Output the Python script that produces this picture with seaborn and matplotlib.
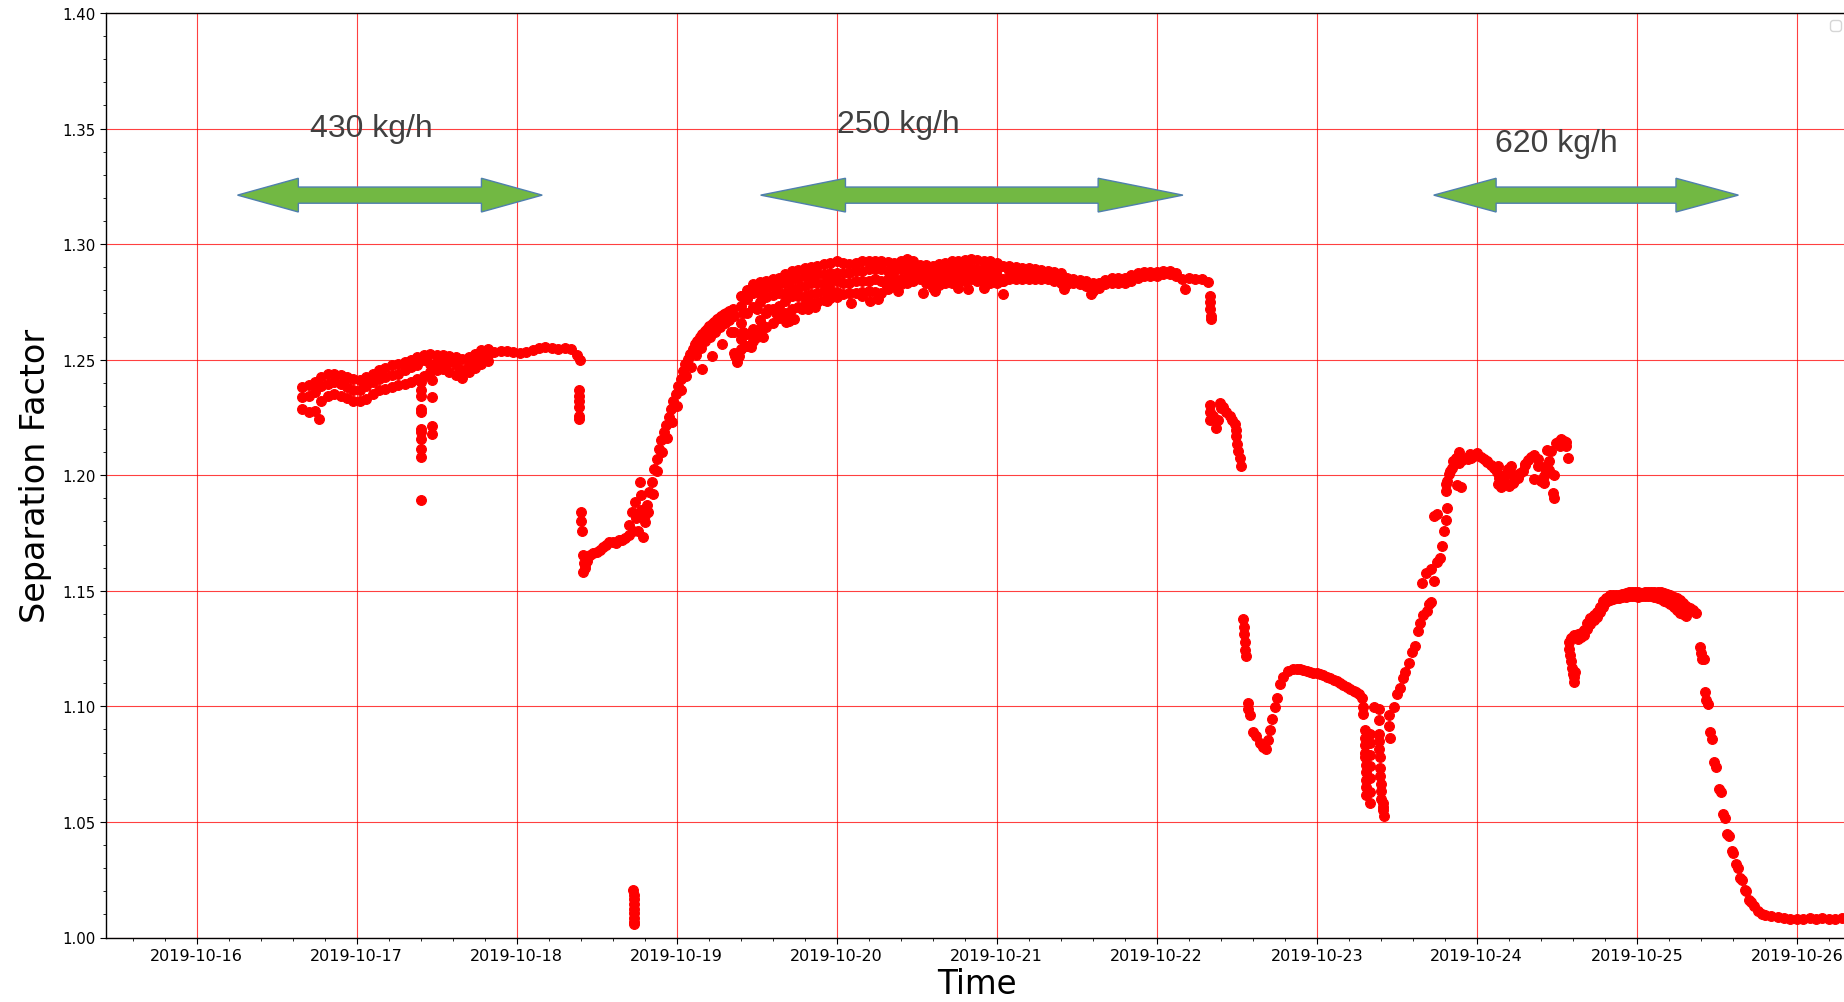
import numpy as np
import pandas as pd
import matplotlib
matplotlib.use("Agg")
import matplotlib.pyplot as plt
import matplotlib.dates as mdates
from matplotlib.ticker import AutoMinorLocator, MultipleLocator, FormatStrFormatter
from matplotlib.patches import Polygon
import seaborn as sns

# ---------------- data (time = day of October 2019, value = separation factor) -------------
# segment A: regular 0.04-day samples from 16.66
a_start, a_step = 16.66, 0.04
a_mid = [1.2338, 1.2345, 1.2359, 1.2388, 1.2396, 1.2403, 1.2396, 1.2381, 1.2367, 1.2367,
         1.2388, 1.2403, 1.2417, 1.2425, 1.2432, 1.2439, 1.2454, 1.2468, 1.2475, 1.2497,
         1.2483, 1.2490, 1.2504, 1.2490, 1.2475, 1.2454, 1.2475, 1.2497, 1.2512, 1.2519,
         1.2533, 1.2536, 1.2536, 1.2533, 1.2530, 1.2533, 1.2541, 1.2551, 1.2555, 1.2551,
         1.2548, 1.2551, 1.2545, 1.2519]
# upper / lower edges of segment A, same grid (first 30 samples)
a_top = [1.2381, 1.2390, 1.2403, 1.2425, 1.2439, 1.2439, 1.2432, 1.2425, 1.2417, 1.2410,
         1.2425, 1.2440, 1.2454, 1.2465, 1.2475, 1.2480, 1.2490, 1.2500, 1.2512, 1.2520,
         1.2526, 1.2522, 1.2519, 1.2515, 1.2512, 1.2505, 1.2512, 1.2526, 1.2541, 1.2545]
a_bot = [1.2287, 1.2275, 1.2280, 1.2320, 1.2345, 1.2350, 1.2345, 1.2335, 1.2323, 1.2320,
         1.2330, 1.2350, 1.2367, 1.2375, 1.2381, 1.2390, 1.2396, 1.2405, 1.2417, 1.2430,
         1.2446, 1.2455, 1.2461, 1.2445, 1.2432, 1.2420, 1.2446, 1.2465, 1.2483, 1.2495]

# segment A2 (low level after the first step), 0.02-day samples from 18.42
a2_start, a2_step = 18.42, 0.02
a2_val = [1.1620, 1.1630, 1.1655, 1.1662, 1.1670, 1.1677, 1.1691, 1.1698, 1.1713, 1.1713,
          1.1705, 1.1720, 1.1720, 1.1727, 1.1741]

# rise, 0.015-day samples from 18.80
rise_start, rise_step = 18.80, 0.015
rise_val = [1.1828, 1.1871, 1.1928, 1.1971, 1.2029, 1.2072, 1.2115, 1.2151, 1.2187, 1.2216,
            1.2251, 1.2287, 1.2323, 1.2352, 1.2388, 1.2417, 1.2453, 1.2481, 1.2503, 1.2524,
            1.2546, 1.2568, 1.2582, 1.2596, 1.2611, 1.2625, 1.2632, 1.2647, 1.2654, 1.2661,
            1.2675, 1.2682, 1.2690, 1.2697, 1.2704, 1.2711, 1.2711, 1.2718]
rise_lo_start, rise_lo_step = 18.82, 0.03
rise_lo = [1.184, 1.192, 1.202, 1.210, 1.216, 1.223, 1.230, 1.237, 1.243, 1.247,
           1.252, 1.255, 1.258, 1.260, 1.262, 1.264, 1.266, 1.267]

# plateau B, 0.04-day samples from 19.36
b_start, b_step = 19.36, 0.04
b_top = [1.2690, 1.2733, 1.2761, 1.2790, 1.2805, 1.2812, 1.2819, 1.2826, 1.2833, 1.2848,
         1.2848, 1.2862, 1.2862, 1.2869, 1.2869, 1.2876, 1.2876, 1.2876, 1.2876, 1.2884,
         1.2884, 1.2891, 1.2891, 1.2891, 1.2884, 1.2884, 1.2891, 1.2898, 1.2891, 1.2884,
         1.2884, 1.2884, 1.2876, 1.2884, 1.2891, 1.2891, 1.2898, 1.2898, 1.2891, 1.2891,
         1.2898, 1.2891, 1.2848, 1.2884, 1.2884, 1.2884, 1.2876, 1.2869, 1.2862, 1.2862,
         1.2869, 1.2855, 1.2826, 1.2833, 1.2826, 1.2819, 1.2797, 1.2812, 1.2826, 1.2833,
         1.2833, 1.2833, 1.2840, 1.2855, 1.2862, 1.2862, 1.2862, 1.2869, 1.2869, 1.2862,
         1.2850, 1.2855, 1.2851, 1.2848, 1.2834]
b_mid = [1.262, 1.266, 1.270, 1.273, 1.275, 1.277, 1.278, 1.279, 1.279, 1.281,
         1.281, 1.282, 1.283, 1.283, 1.283, 1.284, 1.284, 1.283, 1.283, 1.284,
         1.284, 1.284, 1.285, 1.284, 1.285, 1.285, 1.285, 1.286, 1.286, 1.287,
         1.286, 1.285, 1.285, 1.285, 1.286, 1.286, 1.286, 1.287, 1.286, 1.286,
         1.286, 1.286, 1.284]
b_low2 = [1.2530, 1.2545, 1.2560, 1.2580, 1.2610, 1.2640, 1.2660, 1.2680, 1.2700, 1.2720,
          1.2730, 1.2740, 1.2745, 1.2750, 1.2760, 1.2765, 1.2770]
# upper and lower edges of plateau B, 0.04-day samples from 19.40
b_edge_start = 19.40
b_hi = [1.2776, 1.2800, 1.2826, 1.2835, 1.2840, 1.2848, 1.2855, 1.2870, 1.2884, 1.2890,
        1.2898, 1.2900, 1.2905, 1.2912, 1.2920, 1.2925, 1.2920, 1.2915, 1.2920, 1.2925,
        1.2927, 1.2925, 1.2927, 1.2922, 1.2920, 1.2927, 1.2934, 1.2925, 1.2911, 1.2908,
        1.2905, 1.2912, 1.2920, 1.2925, 1.2927, 1.2932, 1.2934, 1.2930, 1.2927, 1.2925,
        1.2920, 1.2905, 1.2905, 1.2900, 1.2898, 1.2895, 1.2891, 1.2888, 1.2884, 1.2880,
        1.2876, 1.2855, 1.2848, 1.2845, 1.2840, 1.2830, 1.2833, 1.2845, 1.2855, 1.2855,
        1.2855, 1.2865, 1.2876, 1.2878, 1.2879, 1.2880, 1.2884, 1.2884, 1.2876]
b_low = [1.2589, 1.2610, 1.2632, 1.2670, 1.2704, 1.2720, 1.2733, 1.2755, 1.2776, 1.2776,
         1.2776, 1.2783, 1.2790, 1.2798, 1.2805, 1.2795, 1.2783, 1.2787, 1.2790, 1.2794,
         1.2797, 1.2793, 1.2790, 1.2805, 1.2819, 1.2826, 1.2833, 1.2840, 1.2848, 1.2830,
         1.2812, 1.2822, 1.2833, 1.2833, 1.2833, 1.2840, 1.2848, 1.2840, 1.2833, 1.2833,
         1.2833, 1.2840, 1.2848, 1.2848, 1.2848, 1.2848, 1.2848, 1.2848, 1.2848, 1.2840,
         1.2833]

# segment E (hump on 10-25), 0.02-day samples from 24.59
e_start, e_step = 24.59, 0.02
e_val = [1.1294, 1.1309, 1.1312, 1.1316, 1.1330, 1.1359, 1.1381, 1.1396, 1.1410, 1.1432,
         1.1454, 1.1471, 1.1480, 1.1480, 1.1483, 1.1483, 1.1486, 1.1490, 1.1493, 1.1494,
         1.1497, 1.1493, 1.1490, 1.1493, 1.1494, 1.1497, 1.1494, 1.1497, 1.1493, 1.1490,
         1.1486, 1.1480, 1.1475, 1.1468, 1.1461, 1.1449, 1.1436, 1.1425, 1.1417, 1.1406]
e_low_start = 24.63
e_low = [1.1290, 1.1298, 1.1310, 1.1335, 1.1358, 1.1372, 1.1388, 1.1410, 1.1432, 1.1452,
         1.1462, 1.1465, 1.1468, 1.1470, 1.1472, 1.1475, 1.1476, 1.1478, 1.1476, 1.1475,
         1.1478, 1.1476, 1.1478, 1.1476, 1.1474, 1.1470, 1.1465, 1.1458, 1.1450, 1.1442,
         1.1430, 1.1418, 1.1406, 1.1398, 1.1390]

# tail, 0.04-day samples from 25.80
tail_start, tail_step = 25.80, 0.04
tail_val = [1.0099, 1.0091, 1.0088, 1.0084, 1.0081, 1.0080, 1.0080, 1.0083, 1.0080, 1.0083,
            1.0080, 1.0080, 1.0083, 1.0080, 1.0081]

# individual readings (time, value)
pts_t = [16.763, 17.401, 17.401, 17.401, 17.401, 17.401, 17.401, 17.401, 17.401, 17.401, 17.401, 17.401,
         17.470, 17.470, 17.470, 17.470,
         18.395, 18.39, 18.39, 18.39, 18.39, 18.39, 18.39, 18.40, 18.405, 18.41,
         18.417, 18.417, 18.425, 18.43,
         18.703, 18.719, 18.737, 18.749, 18.770, 18.775, 18.788, 18.800, 18.730, 18.760, 18.780,
         18.730, 18.731, 18.731, 18.732, 18.732, 18.733, 18.733, 18.734, 18.734,
         19.160, 19.220, 19.286, 19.340, 19.363, 19.376, 19.389, 19.427, 19.465, 19.490,
         19.542, 19.568, 19.619, 19.683, 19.734, 19.785, 19.824, 19.862, 19.939, 20.092,
         20.156, 20.207, 20.258, 20.310, 20.386, 20.540, 20.616, 20.757, 20.821, 20.923,
         21.038, 21.422, 21.588, 22.176,
         19.410, 19.412, 19.414, 19.500, 19.502, 19.504, 19.530, 19.532, 19.700, 19.702,
         22.330, 22.333, 22.336, 22.340, 22.342,
         22.331, 22.333, 22.336, 22.350, 22.372, 22.380, 22.393, 22.400, 22.414, 22.430,
         22.456, 22.470, 22.487, 22.495, 22.498, 22.500, 22.505, 22.519, 22.529,
         22.540, 22.543, 22.546, 22.549, 22.552, 22.555,
         22.571, 22.573, 22.586, 22.603, 22.623, 22.644, 22.665, 22.682, 22.697, 22.711,
         22.718, 22.739, 22.753, 22.770, 22.791, 22.822, 22.854, 22.875, 22.895, 22.916,
         22.937, 22.958, 22.979, 23.000, 23.021, 23.042, 23.063, 23.084, 23.105, 23.126,
         23.146, 23.167, 23.188, 23.209, 23.230, 23.246, 23.262, 23.282, 23.289, 23.291,
         23.300, 23.300, 23.302, 23.302, 23.304, 23.305, 23.306, 23.307, 23.308, 23.309,
         23.330, 23.330, 23.331, 23.332, 23.333, 23.334, 23.335,
         23.356, 23.387, 23.390,
         23.387, 23.390, 23.392, 23.394, 23.396, 23.398, 23.400, 23.402, 23.404,
         23.415, 23.416, 23.417, 23.418,
         23.450, 23.452, 23.455, 23.481, 23.502, 23.523, 23.540, 23.554, 23.575, 23.596,
         23.617, 23.632, 23.644, 23.665, 23.686, 23.700, 23.711, 23.659, 23.680, 23.711,
         23.732, 23.753, 23.770, 23.785, 23.795, 23.805, 23.753, 23.732, 23.816, 23.805,
         23.816, 23.826, 23.847, 23.879, 23.900, 23.889, 23.910, 23.931, 23.946, 23.962,
         23.980, 24.000, 24.025, 24.046, 24.067, 24.088, 24.109, 24.125, 24.140, 24.150,
         24.165, 24.182, 24.198, 24.213, 24.234, 24.255, 24.270, 24.287, 24.300, 24.318,
         24.340, 24.360, 24.381, 24.402, 24.418, 24.433, 24.454, 24.464, 24.475, 24.485,
         24.496, 24.510, 24.527, 24.545, 24.559, 24.569, 24.454, 24.420, 24.160, 24.225,
         23.810, 23.830, 23.850, 23.870, 23.890, 23.960, 24.067, 24.130, 24.170, 24.230,
         24.300, 24.360, 24.420, 24.440, 24.480, 24.520, 24.560, 24.130, 24.200, 24.380,
         24.575, 24.579, 24.585, 24.590, 24.595, 24.600, 24.605, 24.610, 24.615,
         25.398, 25.400, 25.405, 25.419, 25.429, 25.431, 25.442, 25.456, 25.470, 25.481,
         25.494, 25.512, 25.527, 25.540, 25.550, 25.565, 25.577, 25.596, 25.602, 25.617,
         25.631, 25.648, 25.658, 25.675, 25.683, 25.700, 25.715, 25.731, 25.756, 25.783]
pts_v = [1.2243, 1.2403, 1.2367, 1.2345, 1.2287, 1.2272, 1.2200, 1.2186, 1.2157, 1.2113, 1.2077, 1.1891,
         1.2414, 1.2338, 1.2214, 1.2178,
         1.2497, 1.2367, 1.2345, 1.2323, 1.2294, 1.2258, 1.2243, 1.1841, 1.1800, 1.1757,
         1.1655, 1.1583, 1.1600, 1.1610,
         1.1784, 1.1842, 1.1885, 1.1813, 1.1971, 1.1914, 1.1734, 1.1799, 1.1760, 1.1760, 1.1850,
         1.0205, 1.0185, 1.0165, 1.0145, 1.0125, 1.0105, 1.0085, 1.0065, 1.0060,
         1.2460, 1.2517, 1.2567, 1.2618, 1.2517, 1.2489, 1.2517, 1.2560, 1.2553, 1.2603,
         1.2596, 1.2718, 1.2704, 1.2661, 1.2675, 1.2718, 1.2718, 1.2726, 1.2754, 1.2747,
         1.2776, 1.2754, 1.2761, 1.2826, 1.2797, 1.2790, 1.2797, 1.2812, 1.2805, 1.2812,
         1.2783, 1.2805, 1.2783, 1.2805,
         1.2775, 1.2700, 1.2620, 1.2800, 1.2720, 1.2600, 1.2780, 1.2650, 1.2667, 1.2700,
         1.2776, 1.2750, 1.2720, 1.2690, 1.2677,
         1.2305, 1.2272, 1.2238, 1.2256, 1.2205, 1.2238, 1.2313, 1.2290, 1.2296, 1.2275,
         1.2255, 1.2238, 1.2222, 1.2195, 1.2170, 1.2135, 1.2106, 1.2073, 1.2040,
         1.1377, 1.1344, 1.1311, 1.1278, 1.1245, 1.1220,
         1.1013, 1.0988, 1.0964, 1.0889, 1.0873, 1.0840, 1.0823, 1.0815, 1.0856, 1.0897,
         1.0947, 1.0997, 1.1038, 1.1096, 1.1129, 1.1154, 1.1162, 1.1160, 1.1160, 1.1157,
         1.1154, 1.1150, 1.1146, 1.1143, 1.1141, 1.1136, 1.1129, 1.1122, 1.1116, 1.1108,
         1.1100, 1.1092, 1.1085, 1.1077, 1.1068, 1.1062, 1.1055, 1.1038, 1.0997, 1.0967,
         1.0897, 1.0864, 1.0831, 1.0800, 1.0781, 1.0748, 1.0715, 1.0682, 1.0649, 1.0616,
         1.0880, 1.0840, 1.0790, 1.0740, 1.0690, 1.0630, 1.0583,
         1.0997, 1.0988, 1.0939,
         1.0881, 1.0850, 1.0815, 1.0780, 1.0732, 1.0700, 1.0665, 1.0632, 1.0600,
         1.0583, 1.0565, 1.0550, 1.0525,
         1.0964, 1.0914, 1.0864, 1.0997, 1.1055, 1.1080, 1.1121, 1.1150, 1.1187, 1.1237,
         1.1262, 1.1328, 1.1361, 1.1394, 1.1411, 1.1444, 1.1452, 1.1535, 1.1576, 1.1593,
         1.1543, 1.1626, 1.1642, 1.1692, 1.1758, 1.1808, 1.1833, 1.1825, 1.1858, 1.1930,
         1.1974, 1.2007, 1.2031, 1.1957, 1.1949, 1.2053, 1.2065, 1.2073, 1.2070, 1.2073,
         1.2085, 1.2098, 1.2081, 1.2070, 1.2056, 1.2045, 1.2031, 1.2015, 1.1990, 1.1949,
         1.1990, 1.2007, 1.2025, 1.2040, 1.1974, 1.1990, 1.2010, 1.2020, 1.2045, 1.2065,
         1.2080, 1.2089, 1.2070, 1.1974, 1.1995, 1.2010, 1.2023, 1.2106, 1.1924, 1.2000,
         1.2139, 1.2145, 1.2156, 1.2150, 1.2145, 1.2073, 1.2060, 1.2035, 1.1975, 1.1965,
         1.1960, 1.2020, 1.2060, 1.2075, 1.2100, 1.2090, 1.2062, 1.1960, 1.1980, 1.2000,
         1.2050, 1.1985, 1.1965, 1.2110, 1.1900, 1.2125, 1.2125, 1.2040, 1.1955, 1.2040,
         1.1280, 1.1250, 1.1222, 1.1195, 1.1164, 1.1140, 1.1106, 1.1125, 1.1150,
         1.1258, 1.1229, 1.1207, 1.1207, 1.1062, 1.1026, 1.1012, 1.0888, 1.0859, 1.0758,
         1.0736, 1.0642, 1.0628, 1.0533, 1.0519, 1.0446, 1.0439, 1.0374, 1.0367, 1.0316,
         1.0301, 1.0258, 1.0248, 1.0207, 1.0200, 1.0164, 1.0152, 1.0135, 1.0113, 1.0103]

x_range = [15.434, 26.32]
y_range = [1.00, 1.40]
y_ticks = [1.00, 1.05, 1.10, 1.15, 1.20, 1.25, 1.30, 1.35, 1.40]

# flow-rate annotations: label, text x, text baseline y, arrow ends, arrow head length
flow_labels = ["430 kg/h", "250 kg/h", "620 kg/h"]
flow_text_x = [17.095, 20.385, 24.496]
flow_text_y = [1.3469, 1.3484, 1.3404]
arrow_x0 = [16.256, 19.525, 23.731]
arrow_x1 = [18.160, 22.164, 25.635]
arrow_head = [0.38, 0.53, 0.39]
arrow_y = 1.3212

# ---------------- assemble ------------------------------------------------------------------
def grid(start, step, vals):
    return [start + step * i for i in range(len(vals))]

t_all, v_all = [], []
for st, sp, vals in [(a_start, a_step, a_mid), (a_start, a_step, a_top), (a_start, a_step, a_bot),
                     (a2_start, a2_step, a2_val),
                     (rise_start, rise_step, rise_val), (rise_lo_start, rise_lo_step, rise_lo),
                     (b_start, b_step, b_top), (b_start, b_step, b_mid), (b_start, b_step, b_low2),
                     (b_edge_start, b_step, b_hi), (b_edge_start, b_step, b_low),
                     (e_start, e_step, e_val), (e_low_start, e_step, e_low),
                     (tail_start, tail_step, tail_val)]:
    t_all += grid(st, sp, vals)
    v_all += list(vals)
t_all += pts_t
v_all += pts_v

base = pd.Timestamp("2019-10-01")
def to_dt(d):
    return base + pd.to_timedelta(np.asarray(d, dtype=float) - 1.0, unit="D")
def to_num(d):
    return mdates.date2num(base + pd.Timedelta(days=float(d) - 1.0))

df = pd.DataFrame({"Time": to_dt(t_all), "Separation Factor": v_all})

# ---------------- plot ----------------------------------------------------------------------
fig = plt.figure(figsize=(18.44, 10.03), dpi=100)
ax = fig.add_axes([106 / 1844, (1003 - 938.5) / 1003, (1848 - 106) / 1844, (938.5 - 14) / 1003])

sns.scatterplot(data=df, x="Time", y="Separation Factor", color="#ff0000", s=50,
                edgecolor="#ff0000", linewidth=0.8, ax=ax, legend=False, zorder=3)

ax.set_xlim(to_num(x_range[0]), to_num(x_range[1]))
ax.set_ylim(*y_range)
ax.xaxis.set_major_locator(mdates.DayLocator())
ax.xaxis.set_major_formatter(mdates.DateFormatter("%Y-%m-%d"))
ax.xaxis.set_minor_locator(AutoMinorLocator(5))
ax.set_yticks(y_ticks)
ax.yaxis.set_major_formatter(FormatStrFormatter("%.2f"))
ax.yaxis.set_minor_locator(MultipleLocator(0.01))
ax.tick_params(axis="x", which="major", labelsize=11.5, length=4)
ax.tick_params(axis="y", which="major", labelsize=10.8, length=4)
ax.tick_params(which="minor", length=2.2)
ax.grid(True, which="major", color="#ff0000", linewidth=0.8, alpha=0.75, zorder=0)
ax.set_axisbelow(True)
for sp in ax.spines.values():
    sp.set_color("black")
    sp.set_linewidth(1.0)

ax.set_xlabel("Time", fontsize=23.5, labelpad=3)
ax.set_ylabel("Separation Factor", fontsize=24, labelpad=7)

# flow annotations
for lab, tx, ty, x0, x1, hl in zip(flow_labels, flow_text_x, flow_text_y, arrow_x0, arrow_x1, arrow_head):
    ax.text(to_num(tx), ty, lab, ha="center", va="baseline", fontsize=23,
            family="Liberation Sans", color="#404040", zorder=5)
    hh, sh = 0.0073, 0.0035
    xa, xb = to_num(x0), to_num(x1)
    xh0, xh1 = to_num(x0 + hl), to_num(x1 - hl)
    poly = [(xa, arrow_y), (xh0, arrow_y + hh), (xh0, arrow_y + sh), (xh1, arrow_y + sh),
            (xh1, arrow_y + hh), (xb, arrow_y), (xh1, arrow_y - hh), (xh1, arrow_y - sh),
            (xh0, arrow_y - sh), (xh0, arrow_y - hh)]
    ax.add_patch(Polygon(poly, closed=True, facecolor="#72b843", edgecolor="#4f7fae",
                         linewidth=1.0, zorder=4))

ax.legend(handles=[], loc="upper right")

fig.savefig("out.png", dpi=100)
